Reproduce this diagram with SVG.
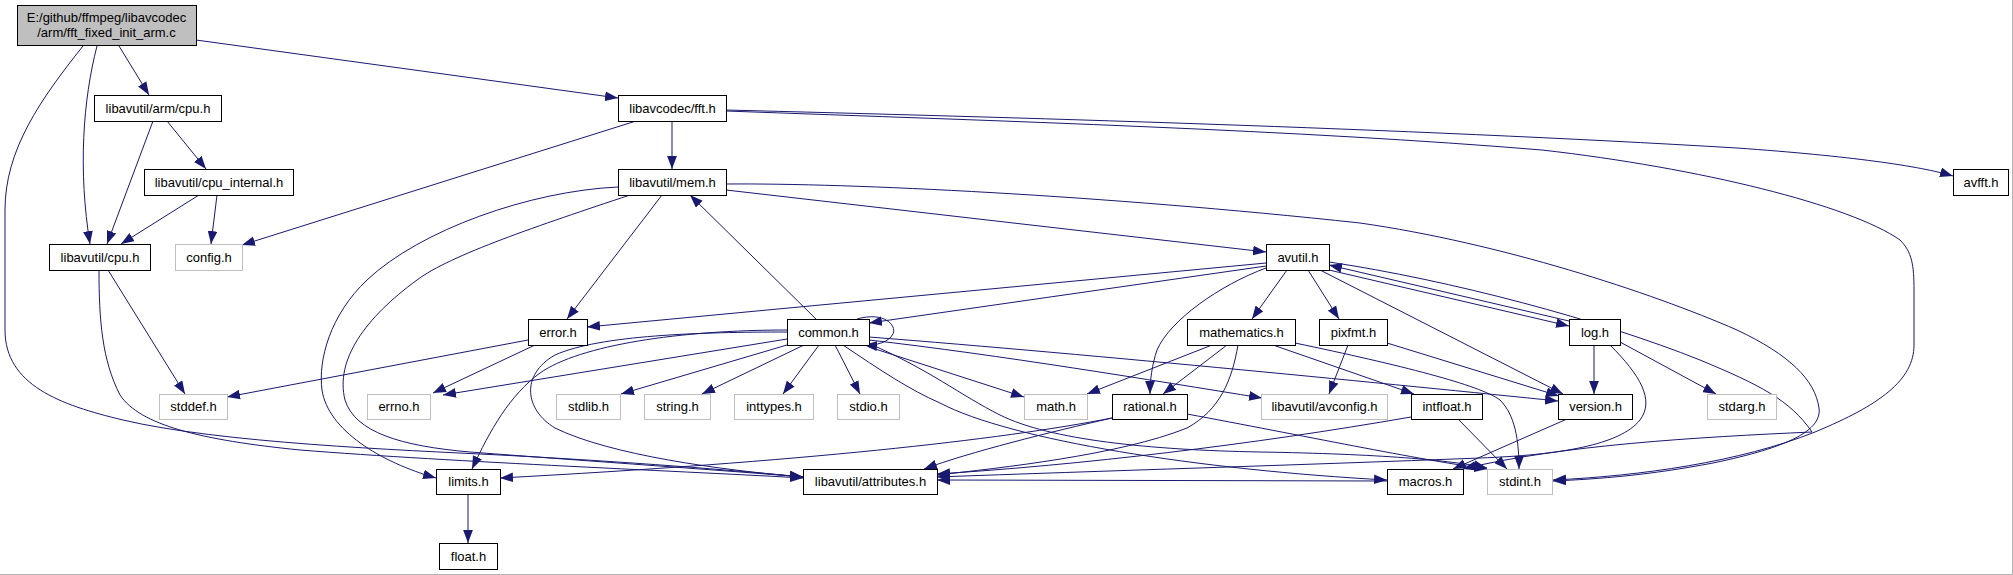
<svg xmlns="http://www.w3.org/2000/svg" width="2013" height="575" viewBox="0 0 2013 575">
<defs>
<marker id="a" markerUnits="userSpaceOnUse" markerWidth="13" markerHeight="10" viewBox="0 0 12 9" refX="12" refY="4.5" orient="auto">
<path d="M0,0 L12,4.5 L0,9 z" fill="#191970"/>
</marker>
</defs>
<style>
.n rect{fill:#fff;stroke:#000;stroke-width:1}
.x rect{fill:#fff;stroke:#bfbfbf;stroke-width:1}
.m rect{fill:#bfbfbf;stroke:#000;stroke-width:1}
text{font-family:"Liberation Sans",Arial,sans-serif;font-size:13px;text-anchor:middle;fill:#000}
#edges path{fill:none;stroke:#191970;stroke-width:1;marker-end:url(#a)}
</style>
<rect x="0" y="0" width="2013" height="575" fill="#fff"/>
<line x1="2012.5" y1="0" x2="2012.5" y2="575" stroke="#b4b4b4"/>
<line x1="0" y1="574.5" x2="2013" y2="574.5" stroke="#b4b4b4"/>
<g id="edges">
<path d="M119,46 L149,95"/>
<path d="M97,46 C83,100 78,170 90,244"/>
<path d="M196,40 L618,98"/>
<path d="M83,46 C40,100 5,150 5,210 L5,330 C5,385 60,405 123,420 C220,443 400,450 500,455 C650,463 740,471 803,477"/>
<path d="M153,121 L107,244"/>
<path d="M167,121 L206,169"/>
<path d="M199,195 L121,244"/>
<path d="M217,195 L211,244"/>
<path d="M636,121 L242,245"/>
<path d="M672,121 L672,169"/>
<path d="M726,110 C1000,117 1400,128 1737,148 C1850,156 1920,166 1953,176"/>
<path d="M726,111 C1000,121 1300,130 1542,150 C1700,168 1850,205 1900,240 C1912,252 1914,265 1914,290 L1914,345 C1914,380 1880,405 1815,432 C1740,462 1640,476 1553,480"/>
<path d="M662,195 L567,319"/>
<path d="M618,187 C530,191 420,230 367,280 C330,315 318,360 322,390 C328,430 380,462 436,478"/>
<path d="M630,195 C540,225 450,255 417,280 C365,318 335,360 345,400 C355,432 400,446 470,452 C600,462 720,470 803,477"/>
<path d="M726,190 L1266,252"/>
<path d="M726,184 C850,183 1100,195 1360,223 C1500,243 1650,292 1737,330 C1790,355 1815,380 1819,408 C1822,430 1790,447 1713,463 C1650,475 1600,479 1553,481"/>
<path d="M816,319 L690,195"/>
<path d="M857,319 C885,311 897,326 893,334 C889,342 876,346 864,345"/>
<path d="M1266,266 L869,323"/>
<path d="M1266,263 L587,327"/>
<path d="M1287,270 L1252,319"/>
<path d="M1308,270 L1339,319"/>
<path d="M1569,321 L1329,265"/>
<path d="M1329,270 L1569,326"/>
<path d="M1266,268 C1220,285 1170,320 1157,350 C1152,365 1150,380 1150,394"/>
<path d="M1320,270 L1563,394"/>
<path d="M1329,262 C1450,280 1600,320 1700,360 C1760,385 1790,400 1812,432 C1700,437 1560,445 1463,469"/>
<path d="M1212,345 L1087,394"/>
<path d="M1227,345 L1163,394"/>
<path d="M1273,345 L1414,394"/>
<path d="M1295,343 C1400,365 1480,385 1500,400 C1515,415 1519,440 1519,469"/>
<path d="M1238,345 C1232,380 1220,410 1187,428 C1120,455 1000,468 937,475"/>
<path d="M1348,345 L1329,394"/>
<path d="M1387,343 L1559,396"/>
<path d="M1594,345 L1594,394"/>
<path d="M1620,342 L1716,394"/>
<path d="M1610,345 C1640,375 1655,400 1640,420 C1620,445 1560,455 1480,458 C1300,465 1100,471 937,477"/>
<path d="M1458,419 L1507,469"/>
<path d="M1411,417 C1250,445 1080,465 937,474"/>
<path d="M1187,414 C1300,435 1420,460 1487,469"/>
<path d="M1112,418 C1050,432 970,452 924,469"/>
<path d="M1112,418 C1000,440 800,462 500,478"/>
<path d="M1567,419 L1453,469"/>
<path d="M787,339 L443,395"/>
<path d="M787,330 C680,330 580,345 540,373 C510,395 490,430 472,469"/>
<path d="M787,332 C700,332 600,335 555,355 C520,375 525,410 555,428 C610,455 720,470 803,477"/>
<path d="M787,345 L621,394"/>
<path d="M804,345 L702,394"/>
<path d="M819,345 L783,394"/>
<path d="M835,345 L860,394"/>
<path d="M869,347 L1024,397"/>
<path d="M869,340 C1000,355 1150,380 1262,398"/>
<path d="M869,337 C1100,355 1400,385 1558,401"/>
<path d="M843,345 C880,370 910,390 940,403 C1010,440 1200,470 1387,480"/>
<path d="M870,344 C930,370 960,395 1000,415 C1050,440 1150,450 1260,452 C1380,454 1450,460 1487,468"/>
<path d="M1387,481 L937,480"/>
<path d="M528,340 L227,397"/>
<path d="M535,345 L433,393"/>
<path d="M99,270 C99,320 102,360 120,395 C140,425 200,440 300,450 C450,462 700,472 803,478"/>
<path d="M108,270 L185,394"/>
<path d="M468,494 L468,543"/>
</g>
<g id="n_main" class="m"><rect x="17.5" y="5.5" width="179" height="40"/><text x="106.5" y="22">E:/github/ffmpeg/libavcodec</text><text x="106.5" y="37">/arm/fft_fixed_init_arm.c</text></g>
<g id="n_armcpu" class="n"><rect x="94.5" y="95.5" width="127" height="26"/><text x="158" y="113">libavutil/arm/cpu.h</text></g>
<g id="n_fft" class="n"><rect x="618.5" y="95.5" width="108" height="26"/><text x="672.5" y="113">libavcodec/fft.h</text></g>
<g id="n_cpuint" class="n"><rect x="144.5" y="169.5" width="149" height="26"/><text x="219" y="187">libavutil/cpu_internal.h</text></g>
<g id="n_mem" class="n"><rect x="618.5" y="169.5" width="108" height="26"/><text x="672.5" y="187">libavutil/mem.h</text></g>
<g id="n_avfft" class="n"><rect x="1953.5" y="169.5" width="55" height="26"/><text x="1981" y="187">avfft.h</text></g>
<g id="n_cpu" class="n"><rect x="49.5" y="244.5" width="101" height="26"/><text x="100" y="262">libavutil/cpu.h</text></g>
<g id="n_config" class="x"><rect x="175.5" y="244.5" width="67" height="26"/><text x="209" y="262">config.h</text></g>
<g id="n_avutil" class="n"><rect x="1266.5" y="244.5" width="63" height="26"/><text x="1298" y="262">avutil.h</text></g>
<g id="n_error" class="n"><rect x="528.5" y="319.5" width="59" height="26"/><text x="558" y="337">error.h</text></g>
<g id="n_common" class="n"><rect x="787.5" y="319.5" width="82" height="26"/><text x="828.5" y="337">common.h</text></g>
<g id="n_mathematics" class="n"><rect x="1187.5" y="319.5" width="108" height="26"/><text x="1241.5" y="337">mathematics.h</text></g>
<g id="n_pixfmt" class="n"><rect x="1319.5" y="319.5" width="68" height="26"/><text x="1353.5" y="337">pixfmt.h</text></g>
<g id="n_log" class="n"><rect x="1569.5" y="319.5" width="51" height="26"/><text x="1595" y="337">log.h</text></g>
<g id="n_stddef" class="x"><rect x="159.5" y="394.5" width="68" height="25"/><text x="193.5" y="411">stddef.h</text></g>
<g id="n_errno" class="x"><rect x="367.5" y="394.5" width="63" height="25"/><text x="399" y="411">errno.h</text></g>
<g id="n_stdlib" class="x"><rect x="556.5" y="394.5" width="64" height="25"/><text x="588.5" y="411">stdlib.h</text></g>
<g id="n_string" class="x"><rect x="644.5" y="394.5" width="66" height="25"/><text x="677.5" y="411">string.h</text></g>
<g id="n_inttypes" class="x"><rect x="734.5" y="394.5" width="79" height="25"/><text x="774" y="411">inttypes.h</text></g>
<g id="n_stdio" class="x"><rect x="837.5" y="394.5" width="62" height="25"/><text x="868.5" y="411">stdio.h</text></g>
<g id="n_math" class="x"><rect x="1024.5" y="394.5" width="63" height="25"/><text x="1056" y="411">math.h</text></g>
<g id="n_rational" class="n"><rect x="1112.5" y="394.5" width="75" height="25"/><text x="1150" y="411">rational.h</text></g>
<g id="n_avconfig" class="x"><rect x="1261.5" y="394.5" width="126" height="25"/><text x="1324.5" y="411">libavutil/avconfig.h</text></g>
<g id="n_intfloat" class="n"><rect x="1411.5" y="394.5" width="71" height="25"/><text x="1447" y="411">intfloat.h</text></g>
<g id="n_version" class="n"><rect x="1558.5" y="394.5" width="74" height="25"/><text x="1595.5" y="411">version.h</text></g>
<g id="n_stdarg" class="x"><rect x="1707.5" y="394.5" width="69" height="25"/><text x="1742" y="411">stdarg.h</text></g>
<g id="n_limits" class="n"><rect x="436.5" y="469.5" width="64" height="25"/><text x="468.5" y="486">limits.h</text></g>
<g id="n_attributes" class="n"><rect x="803.5" y="469.5" width="134" height="25"/><text x="870.5" y="486">libavutil/attributes.h</text></g>
<g id="n_macros" class="n"><rect x="1387.5" y="469.5" width="76" height="25"/><text x="1425.5" y="486">macros.h</text></g>
<g id="n_stdint" class="x"><rect x="1487.5" y="469.5" width="65" height="25"/><text x="1520" y="486">stdint.h</text></g>
<g id="n_float" class="n"><rect x="439.5" y="543.5" width="58" height="26"/><text x="468.5" y="561">float.h</text></g>
</svg>
